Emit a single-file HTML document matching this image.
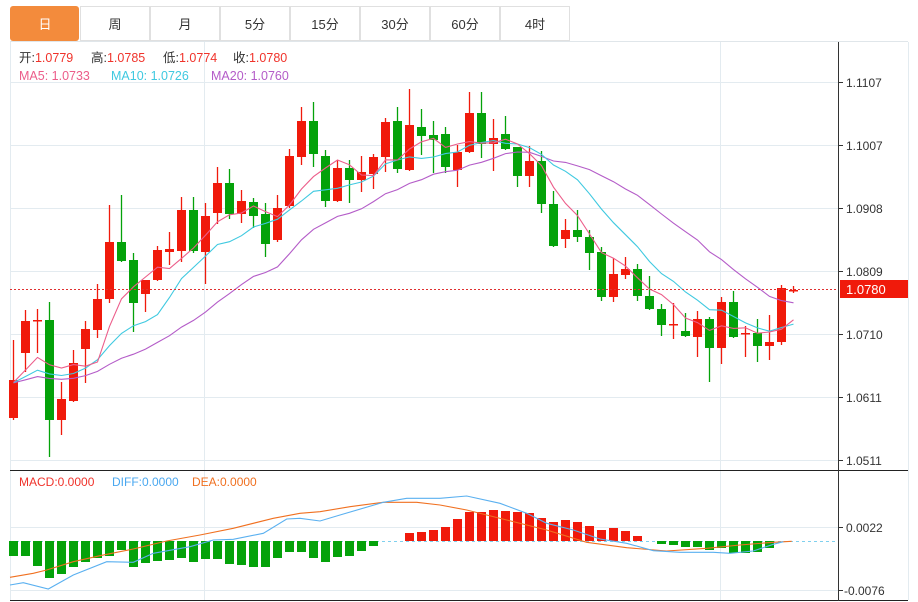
<!DOCTYPE html>
<html><head><meta charset="utf-8"><style>
html,body{margin:0;padding:0;background:#fff;width:918px;height:602px;overflow:hidden;font-family:"Liberation Sans","Noto Sans CJK SC",sans-serif}
</style></head><body>
<svg id="s" width="918" height="602" xmlns="http://www.w3.org/2000/svg" style="position:absolute;left:0;top:0;font-family:'Liberation Sans','Noto Sans CJK SC',sans-serif">
</svg>
<script>
var s=document.getElementById('s');var h='';
function L(x1,y1,x2,y2,c,w,d){h+='<line x1="'+x1+'" y1="'+y1+'" x2="'+x2+'" y2="'+y2+'" stroke="'+c+'" stroke-width="'+(w||1)+'"'+(d?' stroke-dasharray="'+d+'"':'')+'/>';}
function R(x,y,w,hh,c){h+='<rect x="'+x+'" y="'+y+'" width="'+w+'" height="'+hh+'" fill="'+c+'"/>';}
function T(x,y,t,c,sz,a){h+='<text x="'+x+'" y="'+y+'" fill="'+c+'" font-size="'+(sz||12)+'"'+(a?' text-anchor="'+a+'"':'')+'>'+t+'</text>';}
// tabs
var tabs=['日','周','月','5分','15分','30分','60分','4时'];
for(var i=0;i<8;i++){var x=10+70*i;
 if(i==0){h+='<rect x="10" y="6" width="69" height="35" rx="3" fill="#f38b3c"/>';}
 else{h+='<rect x="'+(x+0.5)+'" y="6.5" width="69" height="34" fill="#fff" stroke="#e0e0e0"/>';}
 T(x+35,29,tabs[i],i==0?'#fff':'#333',13,'middle');}
L(10,41.5,908,41.5,'#e0e6ea');
// grid
var gy=[82,145,208,271,334,397,460],gl=['1.1107','1.1007','1.0908','1.0809','1.0710','1.0611','1.0511'];
for(var i=0;i<7;i++){L(10,gy[i]+.5,838,gy[i]+.5,'#e3ebf0');L(838,gy[i]+.5,843,gy[i]+.5,'#333');T(846,gy[i]+5,gl[i],'#333',12);}
L(204.5,42,204.5,600,'#e3ebf0');L(720.5,42,720.5,600,'#e3ebf0');
L(10.5,42,10.5,600,'#e3ebf0');L(908.5,42,908.5,600,'#e3ebf0');
L(10,527.5,838,527.5,'#e3ebf0');L(10,590.5,838,590.5,'#e3ebf0');
L(838,527.5,843,527.5,'#333');L(838,590.5,843,590.5,'#333');
T(846,532,'0.0022','#333',12);T(844,595,'-0.0076','#333',12);
L(10,470.5,908,470.5,'#222');L(10,600.5,908,600.5,'#222');L(838.5,42,838.5,601,'#333');
var C=[[1,380,418,340,420],[1,321,353,310,372],[1,320,321.5,309,353],[0,320,420,302,457],[1,399,420,382,435],[1,363,401,350,402],[1,329,349,321,383],[1,299,330,284,338],[1,242,299,205,303],[0,242,261,195,262],[0,260,303,253,332],[1,280,294,280,312],[1,250,280,246,281],[1,249,252,232,265],[1,210,251,197,262],[0,210,251,197,253],[1,216,252,203,284],[1,183,213,167,224],[0,183,214,169,219],[1,201,214,190,223],[0,202,216,198,228],[0,214,244,203,257],[1,208,240,195,242],[1,156,206,149,208],[1,121,157,107,165],[0,121,154,102,167],[0,156,201,150,207],[1,168,201,160,202],[0,168,180,160,203],[1,172,180,156,192],[1,157,174,154,189],[1,122,157,118,172],[0,121,169,107,173],[1,125,170,89,171],[0,127,136,109,155],[0,135,140,121,173],[0,134,167,127,173],[1,152,170,145,187],[1,113,152,92,153],[0,113,144,92,158],[1,138,144,119,171],[0,134,149,116,150],[0,147,176,147,187],[1,161,176,146,187],[0,161,204,151,213],[0,204,246,191,247],[1,230,239,219,248],[0,230,237,210,242],[0,237,253,230,270],[0,252,297,247,301],[1,274,297,258,302],[1,269,275,257,279],[0,269,296,264,301],[0,296,309,276,310],[0,309,325,304,336],[1,324,325.5,303,339],[0,331,336,313,337],[1,319,337,311,357],[0,319,348,317,382],[1,302,348,297,364],[0,302,337,291,338],[1,333,334.5,326,357],[0,333,346,319,362],[1,342,346,315,360],[1,288,342,285,345],[1,290,291.5,286,293]];
var closes=[];
for(var i=0;i<C.length;i++){var c=C[i],x=13.5+12*i,col=c[0]?'#f01a0b':'#04a20a';
 L(x,c[3],x,c[4],col,1.3);R(x-4.5,c[1],9,Math.max(1.5,c[2]-c[1]),col);
 closes.push(c[0]?c[1]:c[2]);}
function ma(n){var p=[];for(var i=0;i<closes.length;i++){var sm=0;for(var k=i-n+1;k<=i;k++){sm+=k<0?383:closes[k];}p.push((13.5+12*i)+','+(sm/n).toFixed(1));}return p.join(' ');}
h+='<polyline points="'+ma(20)+'" fill="none" stroke="#b45cc8" stroke-width="1.1"/>';
h+='<polyline points="'+ma(10)+'" fill="none" stroke="#3fc9e0" stroke-width="1.1"/>';
h+='<polyline points="'+ma(5)+'" fill="none" stroke="#ec5d8a" stroke-width="1.1"/>';
L(10,289.5,838,289.5,'#e03030',1,'2,2');
R(840,280,68,18,'#f01a0b');T(846,294,'1.0780','#fff',13);
// legend
var lg=[[19,'开:'],[91,'高:'],[163,'低:'],[233,'收:']],lv=['1.0779','1.0785','1.0774','1.0780'];
for(var i=0;i<4;i++){h+='<text x="'+lg[i][0]+'" y="62" font-size="12.5" fill="#333">'+lg[i][1]+'<tspan fill="#f0332b">'+lv[i]+'</tspan></text>';}
T(19,80,'MA5: 1.0733','#ec5d8a',12.5);T(111,80,'MA10: 1.0726','#3fc9e0',12.5);T(211,80,'MA20: 1.0760','#b45cc8',12.5);
// MACD
T(19,486,'MACD:0.0000','#f0332b',12);T(112,486,'DIFF:0.0000','#4aa8f0',12);T(192,486,'DEA:0.0000','#f07020',12);
L(10,541.5,838,541.5,'#7fd0ee',1,'3,3');
var M=[556,556,566,578,574,567,562,558,556,550,567,563,561,560,558,562,559,559,564,565,567,567,558,552,552,558,562,557,556,551,546,540,541,533,532,530,527,519,512,512,510,511,512,513,518,522,520,522,526,530,528,531,536,540,544,545,547,547,550,548,553,553,552,548];
for(var i=0;i<M.length;i++){var x=13.5+12*i,v=M[i];if(Math.abs(v-541)<1.5)continue;
 if(v>541)R(x-4.5,541,9,v-541,'#04a20a');else R(x-4.5,v,9,541-v,'#f01a0b');}
function pl(pts,ox,c){var p=[];for(var i=0;i<pts.length;i+=2)p.push((ox+pts[i]/3).toFixed(1)+','+(465+pts[i+1]/3).toFixed(1));h+='<polyline points="'+p.join(' ')+'" fill="none" stroke="'+c+'" stroke-width="1.1"/>';}
pl([30,337,100,325,140,315,220,290,300,272,400,252,500,228,600,210,700,190,820,160,900,145,960,140,1050,125,1150,112,1250,112,1320,120],0,'#f07020');
pl([0,120,80,135,200,165,320,195,440,232,560,248,680,258,800,250,900,240,1000,232,1055,229],440,'#f07020');
pl([30,360,70,353,145,372,220,330,320,290,400,292,460,265,570,245,640,225,700,223,790,205,860,162,900,160,960,168,1020,150,1150,112,1220,100,1320,100],0,'#5ab0f0');
pl([0,100,80,93,180,115,260,145,320,175,400,195,480,222,560,235,640,257,720,262,820,262,870,265,940,258,1000,238,1030,230],440,'#5ab0f0');
s.innerHTML=h;
</script>
</body></html>
